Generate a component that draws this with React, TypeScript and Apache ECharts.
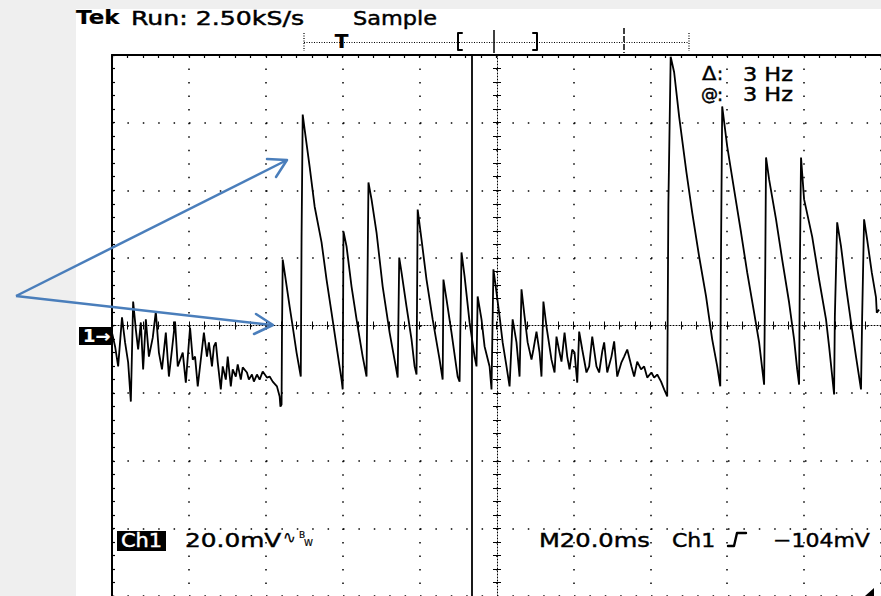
import React, { useEffect, useRef } from "react";
import * as echarts from "echarts";

// Time axis: 10 divisions x 20 ms ; voltage axis: 8 divisions x 20 mV (centre = 0)
const timeMin = 0;
const timeMax = 200;
const timePerDiv = 20;
const voltMin = -80;
const voltMax = 80;
const voltPerDiv = 20;
const minorPerDiv = 5;

// waveform, part A: noisy decaying ringing before the first burst  [ms, mV]
const ringA: [number, number][] = [
  [0, -2.1], [0.8, -6.2], [1.6, -12.1], [2.6, 2.4], [3.4, -5.0], [4.2, -10.9], [4.9, -22.5],
  [5.5, 7.1], [6.2, -1.2], [6.8, -7.1], [7.5, 0.9], [8.1, -13.0], [8.8, 1.8], [9.6, -9.2],
  [10.6, -3.6], [11.4, 4.1], [12.2, -8.0], [13.0, -13.0], [14.0, -2.1], [14.8, -15.1],
  [15.6, -7.1], [16.4, 1.2], [17.1, -12.1], [18.4, -8.0], [19.2, -16.9], [20.3, -0.6],
  [21.0, -10.1], [21.6, -9.2], [22.3, -18.0], [23.4, -7.1], [23.9, -2.1], [24.7, -9.2],
  [25.2, -5.0], [26.0, -12.1], [26.5, -6.2], [27.0, -5.0], [27.5, -10.9], [28.3, -18.9],
  [28.8, -12.1], [29.6, -16.0], [30.1, -9.2], [30.9, -18.0], [31.4, -13.0], [32.2, -15.1],
  [32.7, -11.5], [33.5, -16.0], [34.0, -12.4], [35.1, -13.9], [35.6, -16.0], [36.4, -14.5],
  [36.9, -16.6], [37.7, -14.5], [38.4, -16.0], [39.2, -13.6], [40.3, -15.4], [41.0, -15.1],
  [41.8, -16.6], [42.9, -18.0], [43.6, -21.0], [43.8, -24.0], [44.1, -23.4], [44.2, -3.6],
];

// part B: first sawtooth burst and its decay
const burstB: [number, number][] = [
  [44.4, 19.5], [44.9, 15.7], [46.2, 5.6], [47.0, -0.3], [48.0, -8.0], [49.1, -15.1],
  [49.3, 26.0], [49.6, 62.4], [50.1, 58.0], [51.4, 47.0], [52.7, 35.2], [54.5, 24.6],
  [55.8, 13.6], [57.1, 3.8], [58.4, -6.2], [59.7, -16.0], [60.0, -18.9], [60.2, 27.8],
  [61.0, 23.4], [62.3, 11.5], [63.9, -0.3], [65.2, -9.2], [66.2, -15.1], [66.7, 42.3],
  [67.5, 37.3], [68.8, 27.5], [70.4, 11.5], [72.2, -2.1], [73.8, -12.1], [74.3, -15.4],
  [74.7, 20.1], [75.3, 15.7], [76.6, 5.6], [77.9, -4.1], [78.7, -12.1], [79.2, -14.5],
  [79.5, 34.3], [80.5, 25.4], [81.8, 13.6], [83.4, 1.8], [85.2, -10.1], [86.0, -16.0],
  [86.2, 13.6], [87.0, 7.7], [88.3, -2.1], [89.9, -15.1], [90.4, -16.6], [90.9, 21.6],
  [91.7, 14.5], [93.0, 0.9], [94.3, -9.2], [94.8, -12.1], [95.1, 8.6], [96.1, 1.8],
  [96.9, -6.2], [98.2, -12.1], [98.7, -18.9], [99.2, 16.6], [100.0, 9.8], [100.8, 2.7],
  [101.6, -5.0], [102.6, -12.1], [103.4, -18.0], [104.2, 1.8], [105.2, -5.0], [106.0, -15.1],
  [106.5, 10.7], [107.3, 2.7], [108.1, -5.0], [109.1, -10.1], [109.6, -7.1], [110.4, -1.8],
  [111.2, -8.0], [111.7, -15.1], [112.2, 7.1], [113.0, -0.3], [114.3, -10.1], [115.1, -13.9],
  [115.6, -3.3], [116.4, -8.0], [116.9, -10.7], [117.7, -2.1], [118.4, -9.2], [119.0, -13.0],
  [119.7, -7.1], [120.3, -8.0], [121.0, -16.9], [121.5, -1.8], [122.3, -7.1], [123.4, -13.9],
  [124.1, -12.1], [124.9, -3.3], [126.0, -12.1], [126.7, -13.9], [127.5, -7.7], [128.0, -5.0],
  [128.8, -13.9], [129.9, -9.2], [130.6, -4.7], [131.4, -15.1], [132.5, -10.9], [133.2, -9.2],
  [134.0, -7.1], [135.1, -12.1], [135.8, -15.1], [136.6, -10.7], [137.6, -13.0], [138.4, -12.1],
  [139.2, -15.4], [140.3, -13.9], [141.0, -15.4], [141.8, -14.5], [142.8, -16.6], [143.6, -18.9],
  [144.4, -21.0], [144.7, 35.8],
];

// part C: second, larger sawtooth burst
const burstC: [number, number][] = [
  [145.3, 79.5], [146.2, 74.9], [147.5, 61.8], [149.4, 45.3], [150.9, 33.4], [152.7, 20.4],
  [154.5, 8.6], [156.1, -4.1], [157.4, -12.1], [158.2, -18.0], [158.4, 23.4], [158.7, 64.8],
  [160.0, 53.0], [161.8, 40.2], [163.6, 27.5], [165.2, 15.7], [167.0, 3.8], [168.3, -5.0],
  [169.6, -17.5], [169.9, 17.5], [170.1, 49.7], [170.9, 43.2], [172.7, 31.4], [174.3, 19.5],
  [176.1, 6.8], [177.4, -4.1], [178.2, -13.0], [178.7, -17.5], [178.9, 17.5], [179.2, 49.7],
  [180.0, 37.3], [182.1, 26.3], [183.9, 13.6], [185.7, 1.8], [186.5, -6.2], [187.8, -20.4],
  [188.0, 2.7], [188.6, 30.5], [189.6, 23.4], [190.9, 11.5], [192.2, 0.9], [193.5, -9.2],
  [194.8, -18.9], [195.1, 2.7], [195.6, 31.4], [196.4, 25.4], [197.6, 15.7], [198.7, 8.3],
  [198.9, 3.8], [199.5, 4.7],
];

// vertical time cursor [ms]
const cursorMs = 93.5;

const FONT = "DejaVu Sans";

type TxtOpt = { sx?: number; size?: number; weight?: string; fill?: string; align?: string; sw?: number };
function txt(text: string, x: number, y: number, o: TxtOpt = {}) {
  const fill = o.fill ?? "#000";
  return {
    type: "text",
    x,
    y,
    scaleX: o.sx ?? 1.15,
    silent: true,
    z: 100,
    style: {
      text,
      fill,
      stroke: fill,
      lineWidth: o.sw ?? 0.45,
      fontSize: o.size ?? 20,
      lineHeight: Math.round((o.size ?? 20) * 0.85),
      fontFamily: FONT,
      fontWeight: o.weight ?? "normal",
      align: o.align ?? "left",
      verticalAlign: "middle",
    },
  };
}

function ln(x1: number, y1: number, x2: number, y2: number, stroke: string, w: number, dash?: number[]) {
  return {
    type: "line",
    silent: true,
    z: 100,
    shape: { x1, y1, x2, y2 },
    style: { stroke, lineWidth: w, lineDash: dash, lineCap: "butt" },
  };
}

function pl(points: number[][], stroke: string, w: number) {
  return {
    type: "polyline",
    silent: true,
    z: 100,
    shape: { points },
    style: { stroke, lineWidth: w, fill: null, lineCap: "round", lineJoin: "round" },
  };
}

export default function App() {
  const ref = useRef<HTMLDivElement>(null);

  useEffect(() => {
    if (!ref.current) return;
    const chart = echarts.init(ref.current, null, { renderer: "svg", width: 881, height: 596 });

    const gridH = 541;
    const gridW = 770;
    const minorT = timePerDiv / minorPerDiv;
    const minorV = voltPerDiv / minorPerDiv;
    const vDot = gridH / ((voltMax - voltMin) / minorV);
    const hDot = gridW / ((timeMax - timeMin) / minorT);

    const centreAxisX = (inside: boolean, showLine: boolean) => ({
      type: "value",
      min: timeMin,
      max: timeMax,
      interval: minorT,
      position: "bottom",
      offset: -gridH / 2,
      axisLine: { show: showLine, onZero: false, lineStyle: { color: "#000", width: 1, type: [1, 2] } },
      axisTick: { show: true, inside, length: 4, lineStyle: { color: "#000", width: 1 } },
      axisLabel: { show: false },
      splitLine: { show: false },
    });
    const centreAxisY = (inside: boolean, showLine: boolean) => ({
      type: "value",
      min: voltMin,
      max: voltMax,
      interval: minorV,
      position: "left",
      offset: -gridW / 2,
      axisLine: { show: showLine, onZero: false, lineStyle: { color: "#000", width: 1, type: [1, 2] } },
      axisTick: { show: true, inside, length: 4, lineStyle: { color: "#000", width: 1 } },
      axisLabel: { show: false },
      splitLine: { show: false },
    });

    const blue = "#4a7ebb";

    const option: any = {
      animation: false,
      backgroundColor: "transparent",
      grid: { left: 112, top: 55, width: gridW, height: gridH, containLabel: false },
      xAxis: [
        {
          type: "value",
          min: timeMin,
          max: timeMax,
          interval: timePerDiv,
          position: "top",
          axisLine: { show: true, onZero: false, lineStyle: { color: "#000", width: 2 } },
          axisTick: { show: true, inside: true, length: 3, lineStyle: { color: "#000", width: 1.2 } },
          minorTick: { show: true, splitNumber: minorPerDiv, length: 3, lineStyle: { color: "#000", width: 1.2 } },
          axisLabel: { show: false },
          splitLine: { show: true, lineStyle: { color: "#000", width: 1.5, type: [1.5, vDot - 1.5] } },
        },
        centreAxisX(false, true),
        centreAxisX(true, false),
      ],
      yAxis: [
        {
          type: "value",
          min: voltMin,
          max: voltMax,
          interval: voltPerDiv,
          position: "left",
          axisLine: { show: true, onZero: false, lineStyle: { color: "#000", width: 2 } },
          axisTick: { show: true, inside: true, length: 3, lineStyle: { color: "#000", width: 1.2 } },
          minorTick: { show: true, splitNumber: minorPerDiv, length: 3, lineStyle: { color: "#000", width: 1.2 } },
          axisLabel: { show: false },
          splitLine: { show: true, lineStyle: { color: "#000", width: 1.5, type: [1.5, hDot - 1.5] } },
        },
        centreAxisY(false, true),
        centreAxisY(true, false),
      ],
      series: [
        {
          type: "line",
          xAxisIndex: 0,
          yAxisIndex: 0,
          data: [...ringA, ...burstB, ...burstC],
          showSymbol: false,
          symbol: "none",
          clip: true,
          lineStyle: { color: "#000", width: 1.8 },
          z: 5,
          markLine: {
            silent: true,
            symbol: ["none", "none"],
            label: { show: false },
            lineStyle: { color: "#000", width: 1.8, type: "solid" },
            data: [{ xAxis: cursorMs }],
          },
        },
      ],
      graphic: [
        // top readout
        txt("Tek", 76, 17.5, { weight: "bold", sx: 1.15, sw: 0.2 }),
        txt("Run: 2.50kS/s", 131, 17.5, { sx: 1.26 }),
        txt("Sample", 353, 17.5, { sx: 1.12 }),
        // record / trigger position bar
        ln(304, 42.5, 689, 42.5, "#000", 1, [1, 1.5]),
        ln(304, 33, 304, 51, "#000", 1.2, [1, 1.5]),
        ln(689, 33, 689, 51, "#000", 1.2, [1, 1.5]),
        txt("T", 341.5, 40.5, { weight: "bold", sx: 1, align: "center", sw: 0.2 }),
        pl([[462, 33], [458, 33], [458, 50], [462, 50]], "#000", 2),
        ln(494, 30, 494, 53, "#000", 1.5),
        pl([[533, 33], [537, 33], [537, 50], [533, 50]], "#000", 2),
        ln(624, 28, 624, 53, "#000", 1.5, [6, 2]),
        // cursor readout
        txt("Δ", 702, 73.5, { sx: 1.05 }),
        txt(":", 717, 73.5, { sx: 1, size: 18 }),
        txt("3 Hz", 743, 73.5, { sx: 1.12 }),
        txt("@", 701, 94, { sx: 1, size: 17 }),
        txt(":", 717, 94, { sx: 1, size: 18 }),
        txt("3 Hz", 743, 94, { sx: 1.12 }),
        // channel ground marker
        { type: "rect", silent: true, z: 99, shape: { x: 79, y: 327, width: 34, height: 18 }, style: { fill: "#000" } },
        txt("1→", 83, 336.5, { fill: "#fff", weight: "bold", size: 17, sx: 1.05, sw: 0.2 }),
        // bottom readouts
        { type: "rect", silent: true, z: 99, shape: { x: 117, y: 531, width: 49, height: 20 }, style: { fill: "#000" } },
        txt("Ch1", 141.5, 540.5, { fill: "#fff", size: 19, sx: 1.1, align: "center" }),
        txt("20.0mV", 185, 540, { sx: 1.24 }),
        txt("∿", 283, 537, { size: 17, sx: 0.9, sw: 0.2 }),
        txt("B", 299, 535, { size: 9, sx: 1, sw: 0.2 }),
        txt("W", 304, 543, { size: 9, sx: 1, sw: 0.2 }),
        txt("M20.0ms", 539, 540, { sx: 1.21 }),
        txt("Ch1", 672, 540, { sx: 1.1 }),
        pl([[728, 546], [734, 546], [737, 533], [746, 533]], "#000", 2.4),
        txt("−104mV", 773, 540, { sx: 1.1 }),
        { type: "polygon", silent: true, z: 99, shape: { points: [[865, 596], [874, 588], [874, 596]] }, style: { fill: "#000" } },
        // blue annotation arrows
        ln(16, 296, 286, 160.5, blue, 2.5),
        pl([[267, 159], [287, 160], [276, 177]], blue, 2.5),
        ln(16, 296, 272, 325, blue, 2.5),
        pl([[256, 314], [273, 325], [254, 334]], blue, 2.5),
      ],
    };

    chart.setOption(option);
    return () => chart.dispose();
  }, []);

  return (
    <div style={{ position: "fixed", left: 0, top: 0, width: 881, height: 596, background: "#efefef", overflow: "hidden" }}>
      <div style={{ position: "absolute", left: 76, top: 9, width: 805, height: 587, background: "#ffffff" }} />
      <div ref={ref} style={{ position: "absolute", left: 0, top: 0, width: 881, height: 596 }} />
    </div>
  );
}
